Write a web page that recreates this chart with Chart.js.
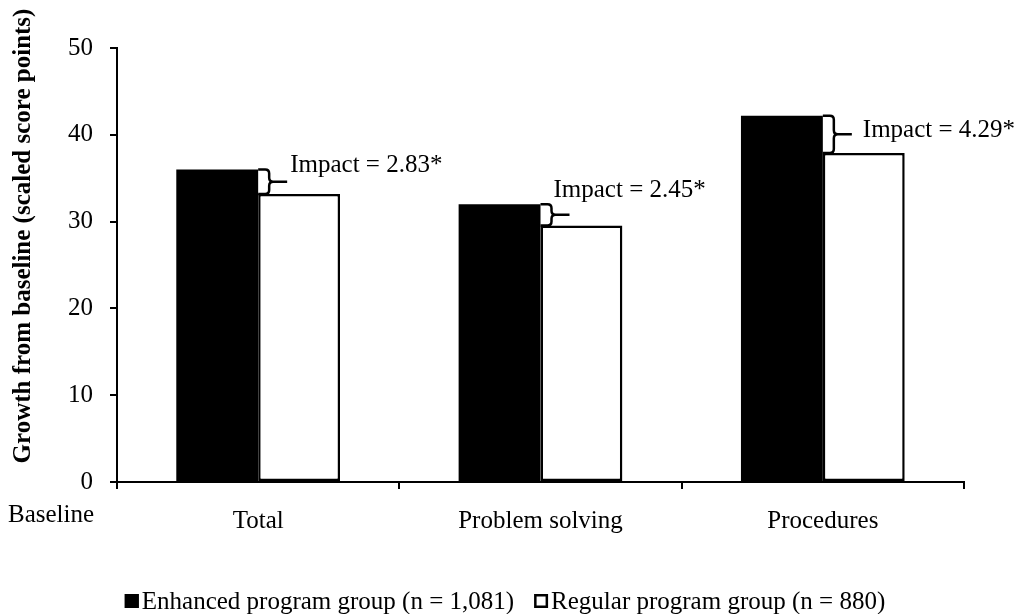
<!DOCTYPE html>
<html>
<head>
<meta charset="utf-8">
<script src="https://cdn.jsdelivr.net/npm/chart.js@4/dist/chart.umd.min.js"></script>
<style>
  html, body { margin: 0; padding: 0; background: #fff; }
  #wrap { width: 1024px; height: 614px; position: relative; }
</style>
</head>
<body>
<div id="wrap"><canvas id="c"></canvas></div>
<script>
const categories = ['Total', 'Problem solving', 'Procedures'];
const enhancedValues = [36.0, 32.0, 42.2];
const regularValues = [33.17, 29.55, 37.91];
const impactValues = ['2.83', '2.45', '4.29'];
const seriesLabels = ['Enhanced program group (n = 1,081)', 'Regular program group (n = 880)'];
const yAxisTitle = 'Growth from baseline (scaled score points)';
const baselineLabel = 'Baseline';

const FONT = '"Liberation Serif", "Times New Roman", serif';

// label offsets relative to the brace tip (dx, dy to baseline)
const impactLabelOffsets = [[3, -10], [-16, -18], [11, 3]];

const annotatePlugin = {
  id: 'annotate',
  afterDraw(chart) {
    const ctx = chart.ctx;
    const m0 = chart.getDatasetMeta(0);
    const m1 = chart.getDatasetMeta(1);
    ctx.save();
    ctx.strokeStyle = '#000';
    ctx.lineWidth = 2.5;
    ctx.fillStyle = '#000';
    for (let i = 0; i < categories.length; i++) {
      const b0 = m0.data[i], b1 = m1.data[i];
      const xr = b0.x + b0.width / 2;
      const y1 = b0.y, y2 = b1.y;
      const ym = (y1 + y2) / 2;
      const d = 11, r = 4, tipEnd = xr + 29;
      ctx.beginPath();
      ctx.moveTo(xr, y1);
      ctx.lineTo(xr + d - r, y1);
      ctx.quadraticCurveTo(xr + d, y1, xr + d, y1 + r);
      ctx.lineTo(xr + d, ym - r);
      ctx.quadraticCurveTo(xr + d, ym, xr + d + r, ym);
      ctx.lineTo(tipEnd, ym);
      ctx.moveTo(xr + d + r, ym);
      ctx.quadraticCurveTo(xr + d, ym, xr + d, ym + r);
      ctx.lineTo(xr + d, y2 - r);
      ctx.quadraticCurveTo(xr + d, y2, xr + d - r, y2);
      ctx.lineTo(xr, y2);
      ctx.stroke();
      ctx.font = '25px ' + FONT;
      ctx.textAlign = 'left';
      ctx.textBaseline = 'alphabetic';
      const off = impactLabelOffsets[i];
      ctx.fillText('Impact = ' + impactValues[i] + '*', tipEnd + off[0], ym + off[1]);
    }
    // Baseline label
    ctx.font = '25px ' + FONT;
    ctx.textAlign = 'left';
    ctx.textBaseline = 'alphabetic';
    ctx.fillText(baselineLabel, 8, 522);
    // Y axis title
    ctx.save();
    ctx.translate(30, 236);
    ctx.rotate(-Math.PI / 2);
    ctx.font = 'bold 25px ' + FONT;
    ctx.textAlign = 'center';
    ctx.textBaseline = 'alphabetic';
    ctx.fillText(yAxisTitle, 0, 0);
    ctx.restore();
    // Legend
    ctx.font = '25px ' + FONT;
    const box = 14, gapText = 3, gapItem = 20;
    const widths = chart.data.datasets.map(ds => box + gapText + ctx.measureText(ds.label).width);
    const total = widths.reduce((a, b) => a + b, 0) + gapItem * (widths.length - 1);
    let x = 505 - total / 2;
    const baseY = 609;
    chart.data.datasets.forEach((ds, k) => {
      ctx.fillStyle = ds.backgroundColor;
      ctx.fillRect(x, baseY - box - 1, box, box);
      ctx.strokeStyle = '#000';
      ctx.lineWidth = 2.5;
      ctx.strokeRect(x + 1.25, baseY - box - 1 + 1.25, box - 2.5, box - 2.5);
      ctx.fillStyle = '#000';
      ctx.textAlign = 'left';
      ctx.fillText(ds.label, x + box + gapText, baseY);
      x += widths[k] + gapItem;
    });
    ctx.restore();
  }
};

new Chart(document.getElementById('c'), {
  type: 'bar',
  data: {
    labels: categories,
    datasets: [
      {
        label: seriesLabels[0],
        data: enhancedValues,
        backgroundColor: '#000000',
        borderColor: '#000000',
        borderWidth: 0,
        categoryPercentage: 0.58,
        barPercentage: 1.0
      },
      {
        label: seriesLabels[1],
        data: regularValues,
        backgroundColor: '#ffffff',
        borderColor: '#000000',
        borderWidth: 2.5,
        borderSkipped: false,
        categoryPercentage: 0.58,
        barPercentage: 1.0
      }
    ]
  },
  options: {
    responsive: true,
    maintainAspectRatio: false,
    animation: false,
    devicePixelRatio: 1,
    layout: { padding: { top: 48, right: 60, left: 0, bottom: 0 } },
    plugins: {
      legend: { display: false },
      tooltip: { enabled: false },
      title: { display: false }
    },
    scales: {
      x: {
        afterFit(scale) { scale.height = 132; },
        border: { display: true, color: '#000', width: 2 },
        grid: { display: true, drawOnChartArea: false, drawTicks: true, tickLength: 7, color: '#000', lineWidth: 2, offset: true },
        ticks: { color: '#000', font: { family: FONT, size: 25 }, padding: 17, maxRotation: 0 }
      },
      y: {
        min: 0,
        max: 50,
        afterFit(scale) { scale.width = 117; },
        border: { display: true, color: '#000', width: 2 },
        grid: { display: true, drawOnChartArea: false, drawTicks: true, tickLength: 7, color: '#000', lineWidth: 2 },
        ticks: { stepSize: 10, color: '#000', font: { family: FONT, size: 25 }, padding: 17 },
        title: { display: false }
      }
    }
  },
  plugins: [annotatePlugin]
});
</script>
</body>
</html>
